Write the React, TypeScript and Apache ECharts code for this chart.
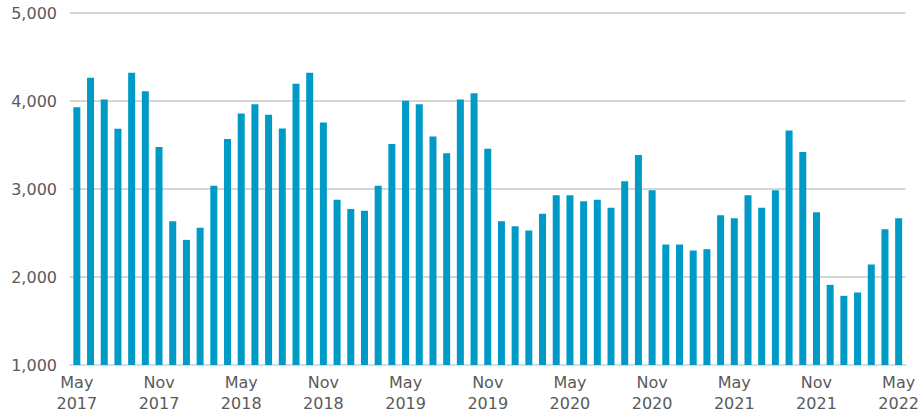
import React, { useEffect, useRef } from "react";
import * as echarts from "echarts";

const months = ["Jan", "Feb", "Mar", "Apr", "May", "Jun", "Jul", "Aug", "Sep", "Oct", "Nov", "Dec"];
const startYear = 2017;
const startMonth = 4; // May (0-based)

const values: number[] = [
  3930, 4263, 4017, 3684, 4320, 4112, 3476, 2633,
  2422, 2561, 3038, 3567, 3858, 3964, 3843, 3688, 4195, 4320, 3756, 2879,
  2773, 2754, 3038, 3510, 4002, 3964, 3597, 3405, 4017, 4089, 3457, 2633,
  2577, 2527, 2720, 2928, 2928, 2860, 2879, 2788, 3087, 3386, 2985, 2369,
  2369, 2301, 2316, 2701, 2667, 2928, 2788, 2985, 3665, 3420, 2735, 1911,
  1786, 1824, 2142, 2543, 2667,
];

const categories: string[] = values.map((_, i) => {
  const m = (startMonth + i) % 12;
  const y = startYear + Math.floor((startMonth + i) / 12);
  return `${months[m]}\n${y}`;
});

const yTicks = { min: 1000, max: 5000, interval: 1000 };

export default function App() {
  const ref = useRef<HTMLDivElement>(null);
  useEffect(() => {
    if (!ref.current) return;
    const chart = echarts.init(ref.current, null, { renderer: "svg" });
    const font = "DejaVu Sans";
    chart.setOption({
      animation: false,
      grid: { left: 70, right: 15, top: 13, bottom: 50, containLabel: false },
      xAxis: {
        type: "category",
        data: categories,
        boundaryGap: true,
        axisLine: { show: true, lineStyle: { color: "#cfdfe7", width: 2 } },
        axisTick: { show: false },
        axisLabel: {
          interval: (idx: number) => idx % 6 === 0,
          color: "#5a5a5a",
          fontFamily: font,
          fontSize: 16,
          lineHeight: 21,
          margin: 7,
        },
        splitLine: { show: false },
      },
      yAxis: {
        type: "value",
        min: yTicks.min,
        max: yTicks.max,
        interval: yTicks.interval,
        axisLine: { show: false },
        axisTick: { show: false },
        axisLabel: {
          color: "#5a5a5a",
          fontFamily: font,
          fontSize: 16,
          margin: 13,
          formatter: (v: number) => v.toLocaleString("en-US"),
        },
        splitLine: { show: true, lineStyle: { color: "#c8c8c8", width: 1.5 } },
      },
      series: [
        {
          type: "bar",
          data: values,
          barWidth: 7,
          itemStyle: { color: "#009ac7" },
        },
      ],
    });
    return () => chart.dispose();
  }, []);
  return <div ref={ref} style={{ width: 922, height: 415, position: "absolute", left: 0, top: 0 }} />;
}
